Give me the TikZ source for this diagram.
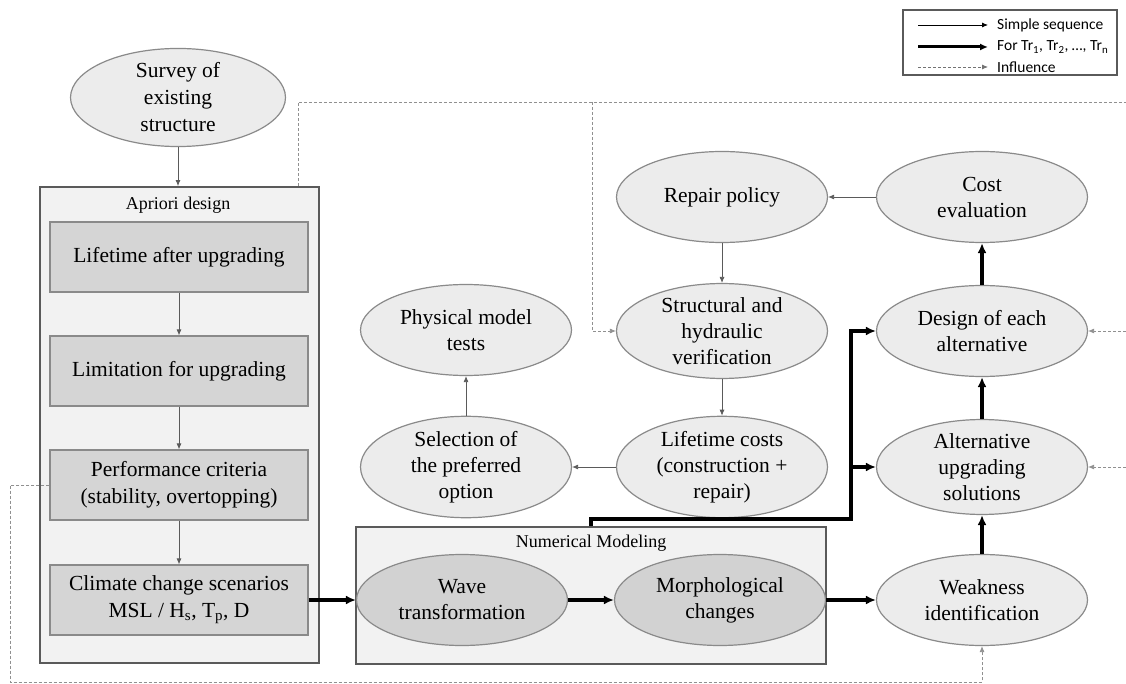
\documentclass[tikz,border=0pt]{standalone}
\usepackage{fontspec}
\setmainfont{Liberation Serif}
\newfontfamily\legendfont{Carlito}
\usetikzlibrary{shapes.geometric,arrows.meta,calc}
\definecolor{ellfill}{HTML}{ECECEC}
\definecolor{ellline}{HTML}{8A8A8A}
\definecolor{darkell}{HTML}{D2D2D2}
\definecolor{boxfill}{HTML}{D5D5D5}
\definecolor{boxline}{HTML}{8A8A8A}
\definecolor{grpfill}{HTML}{F2F2F2}
\definecolor{grpline}{HTML}{5A5A5A}
\definecolor{thinline}{HTML}{5A5A5A}
\definecolor{dashline}{HTML}{909090}
\begin{document}
\begin{tikzpicture}[x=1pt,y=-1pt,
  ell/.style={ellipse,draw=ellline,line width=1.2pt,fill=ellfill,minimum width=211,minimum height=91,inner sep=0pt,align=center,font=\fontsize{21.5}{26}\selectfont},
  dell/.style={ell,fill=darkell},
  stepbox/.style={rectangle,draw=boxline,line width=1.2pt,fill=boxfill,minimum width=258,minimum height=70,inner sep=0pt,align=center,font=\fontsize{21.5}{27}\selectfont},
  grp/.style={rectangle,draw=grpline,line width=1.8pt,fill=grpfill,inner sep=0pt},
  grplabel/.style={font=\fontsize{18}{20}\selectfont,inner sep=0pt},
  thin/.style={draw=thinline,line width=0.8pt,-{Latex[length=6pt,width=5pt]}},
  thk/.style={draw=black,line width=3.2pt,-{Latex[length=10pt,width=9pt]}},
  dsh/.style={draw=dashline,line width=0.8pt,dash pattern=on 3pt off 2pt},
  dsharr/.style={dsh,-{Latex[length=6pt,width=5pt]}},
  legtext/.style={font=\legendfont\fontsize{15.5}{17}\selectfont,anchor=west,inner sep=0pt}
]
\useasboundingbox (0,0) rectangle (1126,684);

% group boxes
\node[grp,minimum width=279,minimum height=476] (apr) at (179.5,425) {};
\node[grplabel] (aprl) at (178,205) {Apriori design};
\node[grp,minimum width=470,minimum height=137] (num) at (591,595.5) {};
\node[grplabel] (numl) at (591,543) {Numerical Modeling};

% left column
\node[ell,minimum width=215,minimum height=92,font=\fontsize{21.5}{27}\selectfont] (survey) at (178,97.5) {Survey of\\existing\\structure};
\node[stepbox] (life) at (179,257) {Lifetime after upgrading};
\node[stepbox] (limit) at (179,371) {Limitation for upgrading};
\node[stepbox] (perf) at (179,485) {Performance criteria\\(stability, overtopping)};
\node[stepbox] (clim) at (179,600) {Climate change scenarios\\MSL / H\textsubscript{s}, T\textsubscript{p}, D};

% numerical modelling
\node[dell] (wave) at (462,600) {Wave\\transformation};
\node[dell] (morph) at (720,600) {Morphological\\changes};

% middle
\node[ell] (phys) at (466,330) {Physical model\\tests};
\node[ell] (sel) at (466,467) {Selection of\\the preferred\\option};
\node[ell] (repair) at (722,197) {Repair policy};
\node[ell] (struct) at (722,331) {Structural and\\hydraulic\\verification};
\node[ell] (lcost) at (722,467) {Lifetime costs\\(construction +\\repair)};

% right column
\node[ell] (cost) at (982,197) {Cost\\evaluation};
\node[ell] (design) at (982,331) {Design of each\\alternative};
\node[ell] (alt) at (982,467) {Alternative\\upgrading\\solutions};
\node[ell] (weak) at (982,600) {Weakness\\identification};

% thin arrows
\draw[thin] (survey) -- (apr.north -| survey);
\draw[thin] (life) -- (limit);
\draw[thin] (limit) -- (perf);
\draw[thin] (perf) -- (clim);
\draw[thin] (cost) -- (repair);
\draw[thin] (repair) -- (struct);
\draw[thin] (struct) -- (lcost);
\draw[thin] (lcost) -- (sel);
\draw[thin] (sel) -- (phys);

% thick arrows
\draw[thk] (clim.east) -- (wave.west);
\draw[thk] (wave) -- (morph);
\draw[thk] (morph) -- (weak);
\draw[thk] (weak) -- (alt);
\draw[thk] (alt) -- (design);
\draw[thk] (design) -- (cost);
\coordinate (j) at (851,519);
\draw[thk] (num.north) |- (j) |- (design.west);
\draw[thk] (j |- alt.west) -- (alt.west);

% dashed influences
\coordinate (t1) at (298,102);
\coordinate (t2) at (592,102);
\coordinate (tr) at (1126,102);
\draw[dsh] (apr.north -| t1) -- (t1) -- (tr);
\draw[dsharr] (t2) |- (struct.west);
\coordinate (b1) at (10,682);
\coordinate (b2) at (982,682);
\draw[dsharr] (perf.west) -| (b1) -- (b2) -- (weak.south);
\coordinate (r1) at (1126,331);
\coordinate (r2) at (1126,467);
\draw[dsharr] (r1) -- (design.east);
\draw[dsharr] (r2) -- (alt.east);

% legend
\node[rectangle,draw=grpline,line width=1.5pt,fill=white,minimum width=214,minimum height=65,inner sep=0pt] (leg) at (1010,42.5) {};
\coordinate (l1a) at (918,25); \coordinate (l1b) at (988,25);
\coordinate (l2a) at (918,47); \coordinate (l2b) at (988,47);
\coordinate (l3a) at (918,67); \coordinate (l3b) at (988,67);
\draw[thin,draw=black] (l1a) -- (l1b);
\draw[line width=3pt,-{Latex[length=8pt,width=7pt]}] (l2a) -- (l2b);
\draw[dsharr,draw=dashline!80!black] (l3a) -- (l3b);
\node[legtext] (lt1) at (997,25) {Simple sequence};
\node[legtext] (lt2) at (997,47) {For Tr\textsubscript{1}, Tr\textsubscript{2}, …, Tr\textsubscript{n}};
\node[legtext] (lt3) at (997,67) {Influence};
\end{tikzpicture}
\end{document}
